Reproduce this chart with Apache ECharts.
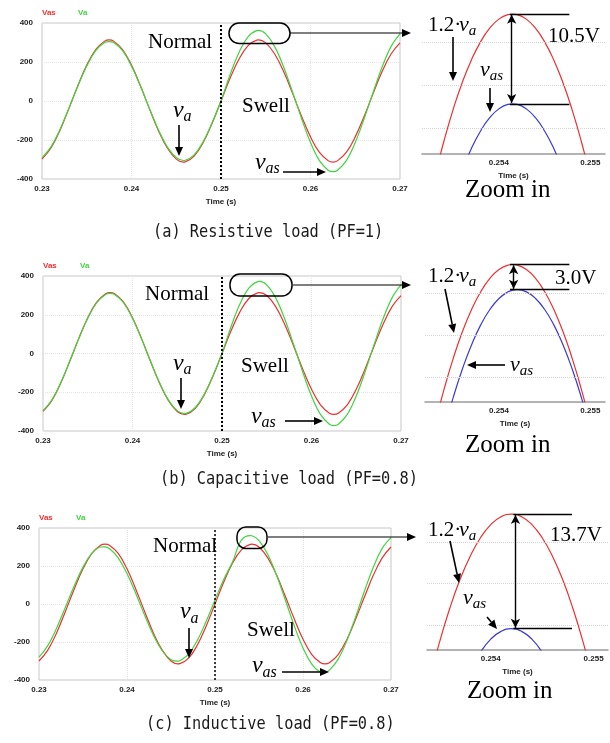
<!DOCTYPE html>
<html>
<head>
<meta charset="utf-8">
<title>Swell compensation waveforms</title>
<script src="https://cdn.jsdelivr.net/npm/echarts@6.0.0/dist/echarts.min.js"></script>
<style>
  html, body { margin: 0; padding: 0; background: #fff; }
  #chart { width: 610px; height: 743px; }
</style>
</head>
<body>
<div id="chart"></div>
<script>
// sample times of the PSIM traces (s), read every 1 ms plus the peaks
const timeMain = [0.230, 0.231, 0.232, 0.233, 0.234, 0.235, 0.236, 0.237, 0.2375, 0.238, 0.239,
  0.240, 0.241, 0.242, 0.243, 0.244, 0.245, 0.2458, 0.246, 0.247, 0.248, 0.249,
  0.250, 0.251, 0.252, 0.253, 0.254, 0.2542, 0.255, 0.256, 0.257, 0.258, 0.259,
  0.260, 0.261, 0.262, 0.2625, 0.263, 0.264, 0.265, 0.266, 0.267, 0.268, 0.269, 0.270];

// (a) resistive load
const vasA = [-298, -241, -151, -39, 78, 184, 264, 307, 313, 307, 264, 184, 78, -39, -151, -241, -298, -313, -312, -283, -214, -115,
  0, 115, 214, 283, 312, 313, 298, 241, 151, 39, -78, -184, -264, -307, -313, -307, -264, -184, -78, 39, 151, 241, 298];
const vaA = [-290, -235, -147, -38, 76, 179, 258, 300, 305, 300, 258, 179, 76, -38, -147, -235, -290, -305, -304, -276, -209, -112,
  0, 133, 248, 328, 361, 362, 344, 279, 174, 45, -90, -213, -306, -356, -362, -356, -306, -213, -90, 45, 174, 279, 344];
// (b) capacitive load
const vasB = [-299, -242, -151, -39, 78, 185, 265, 308, 314, 308, 265, 185, 78, -39, -151, -242, -299, -314, -313, -284, -215, -116,
  0, 116, 215, 284, 313, 314, 299, 242, 151, 39, -78, -185, -265, -308, -314, -308, -265, -185, -78, 39, 151, 242, 299];
const vaB = [-295, -239, -149, -39, 77, 182, 262, 305, 310, 305, 262, 182, 77, -39, -149, -239, -295, -310, -309, -280, -212, -114,
  0, 137, 255, 337, 371, 372, 354, 287, 179, 47, -93, -219, -314, -365, -372, -365, -314, -219, -93, 47, 179, 287, 354];
// (c) inductive load
const vasC = [-300, -243, -152, -39, 78, 185, 266, 309, 315, 309, 266, 185, 78, -39, -152, -243, -300, -315, -314, -285, -216, -116,
  0, 116, 216, 285, 314, 315, 300, 243, 152, 39, -78, -185, -266, -309, -315, -309, -266, -185, -78, 39, 152, 243, 300];
const vaC = [-280, -219, -127, -17, 95, 194, 266, 300, 301, 292, 243, 160, 55, -59, -164, -246, -293, -301, -299, -264, -191, -91,
  21, 130, 222, 336, 360, 359, 334, 261, 151, 20, -114, -231, -317, -357, -359, -348, -290, -191, -65, 70, 195, 293, 349];

// instant where the swell starts (dotted line), per case
const swellStart = [0.2507, 0.2506, 0.2521];

// zoomed peak, sampled every 0.1 ms
const timeZoom = [0.2532, 0.2533, 0.2534, 0.2535, 0.2536, 0.2537, 0.2538, 0.2539, 0.2540, 0.2541, 0.25415,
  0.2542, 0.2543, 0.2544, 0.2545, 0.2546, 0.2547, 0.2548, 0.2549, 0.2550, 0.2551];
const timeZoomC = [0.2533, 0.2534, 0.2535, 0.2536, 0.2537, 0.2538, 0.2539, 0.2540, 0.2541,
  0.2542, 0.2543, 0.2544, 0.2545, 0.2546, 0.2547, 0.2548, 0.2549, 0.2550, 0.2551];
const refZoomA = [349.67, 354.34, 358.52, 362.19, 365.35, 367.99, 370.10, 371.69, 372.75, 373.28, 373.35,
  373.28, 372.75, 371.69, 370.10, 367.99, 365.35, 362.19, 358.52, 354.34, 349.67];
const vasZoomA = [339.83, 344.38, 348.44, 352.01, 355.08, 357.64, 359.69, 361.24, 362.27, 362.79, 362.85,
  362.79, 362.27, 361.24, 359.69, 357.64, 355.08, 352.01, 348.44, 344.38, 339.83];
const refZoomB = [349.71, 354.39, 358.57, 362.24, 365.40, 368.04, 370.15, 371.74, 372.80, 373.33, 373.40,
  373.33, 372.80, 371.74, 370.15, 368.04, 365.40, 362.24, 358.57, 354.39, 349.71];
const vasZoomB = [344.39, 349.28, 353.68, 357.58, 360.96, 363.84, 366.20, 368.03, 369.35, 370.14, 370.33,
  370.40, 370.14, 369.35, 368.03, 366.20, 363.84, 360.96, 357.58, 353.68, 349.28];
const refZoomC = [347.73, 353.11, 357.85, 361.95, 365.43, 368.27, 370.49, 372.07, 373.01,
  373.33, 373.01, 372.07, 370.49, 368.27, 365.43, 361.95, 357.85, 353.11, 347.73];
const vasZoomC = [333.96, 339.34, 344.08, 348.18, 351.66, 354.50, 356.72, 358.30, 359.24,
  359.56, 359.24, 358.30, 356.72, 354.50, 351.66, 348.18, 344.08, 339.34, 333.96];

// peak readings in the zoom windows (V) and the printed difference
const peakRef = [373.35, 373.4, 373.33];
const peakVas = [362.85, 370.4, 359.56];
const diffText = ['10.5V', '3.0V', '13.7V'];
const zoomGridLevels = [360, 365, 370];
const captions = ['(a) Resistive load (PF=1)', '(b) Capacitive load (PF=0.8)', '(c) Inductive load (PF=0.8)'];

const RED = '#ee3030', GREEN = '#3fd63f', BLUE = '#3a3ad8';
const SERIF = '"Liberation Serif", "Times New Roman", serif';
const SANS = '"Liberation Sans", Arial, sans-serif';
const tickFont = { fontFamily: SANS, fontSize: 8, fontWeight: 'bold', color: '#222' };

const rows = [
  { vas: vasA, va: vaA, zt: timeZoom, zr: refZoomA, zb: vasZoomA },
  { vas: vasB, va: vaB, zt: timeZoom, zr: refZoomB, zb: vasZoomB },
  { vas: vasC, va: vaC, zt: timeZoomC, zr: refZoomC, zb: vasZoomC }
];

// layout
const mainGrids = [
  { left: 42, top: 23, width: 358, height: 156 },
  { left: 43, top: 276, width: 358, height: 155 },
  { left: 39, top: 528, width: 352, height: 152 }
];
const zoomGrids = [
  { left: 422, top: 11, width: 183, height: 143 },
  { left: 425, top: 262, width: 180, height: 140 },
  { left: 427, top: 511, width: 181, height: 139 }
];
const zoomRange = [[0.25316, 0.25516], [0.25319, 0.25516], [0.25338, 0.25514]];
// where the dimension lines sit in the zoom windows (time)
const dimSpan = [[0.25412, 0.25477, 0.25414], [0.25412, 0.25477, 0.25416], [0.25422, 0.25479, 0.25424]];

function pairs(xs, ys) {
  return xs.map(function (t, k) { return [t, ys[k]]; });
}

function lineSeries(name, idx, data, color) {
  return {
    name: name, type: 'line', xAxisIndex: idx, yAxisIndex: idx, data: data,
    symbol: 'none', showSymbol: false, smooth: 0.4, silent: true,
    lineStyle: { color: color, width: 1.2 }, itemStyle: { color: color }
  };
}

const grid = [], xAxis = [], yAxis = [], series = [];

mainGrids.forEach(function (g, i) {
  grid.push(Object.assign({ show: true, borderColor: '#c6c6c6', borderWidth: 1, outerBoundsMode: 'none' }, g));
  xAxis.push({
    gridIndex: i, type: 'value', min: 0.23, max: 0.27, interval: 0.01,
    name: 'Time (s)', nameLocation: 'middle', nameGap: 19, nameTextStyle: tickFont,
    axisLine: { show: false, onZero: false }, axisTick: { show: false },
    axisLabel: Object.assign({ margin: 6 }, tickFont),
    splitLine: { lineStyle: { color: '#e4e4e4', type: 'dotted' } }
  });
  yAxis.push({
    gridIndex: i, type: 'value', min: -400, max: 400, interval: 200,
    axisLine: { show: false }, axisTick: { show: false },
    axisLabel: Object.assign({ margin: 9 }, tickFont),
    splitLine: { lineStyle: { color: '#e4e4e4', type: 'dotted' } }
  });
});

zoomGrids.forEach(function (g, i) {
  grid.push(Object.assign({ outerBoundsMode: 'none' }, g));
  xAxis.push({
    gridIndex: 3 + i, type: 'value', min: zoomRange[i][0], max: zoomRange[i][1],
    name: 'Time (s)', nameLocation: 'middle', nameGap: 18, nameTextStyle: tickFont,
    axisLine: { show: true, onZero: false, lineStyle: { color: '#9a9a9a', width: 1.5 } },
    axisTick: { show: false },
    axisLabel: Object.assign({ margin: 5, customValues: [0.254, 0.255] }, tickFont),
    splitLine: { show: false }
  });
  yAxis.push({ gridIndex: 3 + i, type: 'value', min: 357, max: 373.7, show: false });
});

rows.forEach(function (r, i) {
  series.push(lineSeries('Vas', i, pairs(timeMain, r.vas), RED));
  const va = lineSeries('Va', i, pairs(timeMain, r.va), GREEN);
  va.markLine = {
    silent: true, symbol: ['none', 'none'], label: { show: false }, animation: false,
    lineStyle: { color: '#000', type: [2, 2], width: i === 2 ? 1.5 : 2 },
    data: [{ xAxis: swellStart[i] }]
  };
  series.push(va);
});

rows.forEach(function (r, i) {
  const ref = lineSeries('1.2·va', 3 + i, pairs(r.zt, r.zr), RED);
  ref.smooth = 0.5;
  ref.markLine = {
    silent: true, symbol: ['none', 'none'], label: { show: false }, animation: false,
    lineStyle: { color: '#d4d4d4', type: 'dotted', width: 1 },
    data: zoomGridLevels.map(function (v) { return { yAxis: v }; })
  };
  series.push(ref);
  const vas = lineSeries('vas', 3 + i, pairs(r.zt, r.zb), BLUE);
  vas.smooth = 0.5;
  const d = dimSpan[i];
  vas.markLine = {
    silent: true, symbol: ['none', 'none'], symbolSize: [7, 9], label: { show: false }, animation: false,
    lineStyle: { color: '#000', type: 'solid', width: 1.4 },
    data: [
      [{ coord: [d[0], peakRef[i]] }, { coord: [d[1], peakRef[i]] }],
      [{ coord: [d[0], peakVas[i]] }, { coord: [d[1], peakVas[i]] }],
      [{ coord: [d[2], peakRef[i] - 0.1], symbol: 'arrow' }, { coord: [d[2], peakVas[i] + 0.1], symbol: 'arrow' }]
    ]
  };
  series.push(vas);
});

// ---- annotations ----
function word(x, base, s, size, italic) {
  return {
    type: 'text', x: x, y: base - 0.305 * size, silent: true, z: 100,
    style: { text: s, font: (italic ? 'italic ' : '') + size + 'px ' + SERIF, fill: '#000', align: 'left', verticalAlign: 'middle' }
  };
}
// italic v with a subscript
function sym(x, base, sub, size) {
  return [word(x, base, 'v', size, true), word(x + 0.44 * size, base + 0.17 * size, sub, Math.round(size * 0.68), true)];
}
function arrow(x1, y1, x2, y2, lw) {
  const a = Math.atan2(y2 - y1, x2 - x1), h = 9, w = 4;
  const bx = x2 - h * Math.cos(a), by = y2 - h * Math.sin(a);
  const sx = w * Math.sin(a), sy = w * Math.cos(a);
  return [
    { type: 'line', silent: true, z: 100, shape: { x1: x1, y1: y1, x2: bx, y2: by }, style: { stroke: '#000', lineWidth: lw || 1.6 } },
    { type: 'polygon', silent: true, z: 100, shape: { points: [[x2, y2], [bx - sx, by + sy], [bx + sx, by - sy]] }, style: { fill: '#000' } }
  ];
}
function pill(x, y, w, h, r) {
  return { type: 'rect', silent: true, z: 100, shape: { x: x, y: y, width: w, height: h, r: r }, style: { fill: 'transparent', stroke: '#000', lineWidth: 1.5 } };
}
function legendText(x, y, s, color) {
  return { type: 'text', x: x, y: y, silent: true, z: 100,
    style: { text: s, font: 'bold 8px ' + SANS, fill: color, align: 'left', verticalAlign: 'middle' } };
}
function caption(x, y, s) {
  return { type: 'text', x: x, y: y, scaleX: 0.9, silent: true, z: 100,
    style: { text: s, font: '17px "DejaVu Sans Mono", monospace', fill: '#1a1a1a', align: 'left', verticalAlign: 'middle' } };
}

const g = [].concat(
  // (a)
  legendText(42, 13, 'Vas', RED), legendText(78, 13, 'Va', GREEN),
  word(148, 49, 'Normal', 21), word(242, 112.7, 'Swell', 21),
  sym(173, 118, 'a', 24), arrow(179, 125, 179, 156),
  sym(255, 170, 'as', 24), arrow(283, 172, 326, 172),
  pill(229, 23, 61, 20.5, 10), arrow(290, 33, 411, 33, 1.2),
  word(428, 31.7, '1.2·', 21), sym(459, 31.7, 'a', 22), arrow(453, 37, 453, 81),
  sym(480, 77, 'as', 22), arrow(490, 88, 490, 112),
  word(548, 42.7, diffText[0], 21), word(465, 198, 'Zoom in', 25),
  caption(153, 233, captions[0]),
  // (b)
  legendText(43, 265.7, 'Vas', RED), legendText(80, 265.7, 'Va', GREEN),
  word(145, 300.7, 'Normal', 21), word(241, 373.3, 'Swell', 21),
  sym(173, 370.7, 'a', 24), arrow(181, 378, 181, 409),
  sym(251, 424, 'as', 24), arrow(285, 421, 323, 421),
  pill(230, 274, 62, 22, 10), arrow(293, 285, 411, 285, 1.2),
  word(428, 283.3, '1.2·', 21), sym(459, 283.3, 'a', 22), arrow(445, 289, 454, 333),
  sym(510, 371.7, 'as', 22), arrow(505, 365, 467, 365),
  word(555, 285, diffText[1], 21), word(465, 452.7, 'Zoom in', 25),
  caption(160, 480, captions[1]),
  // (c)
  legendText(39, 517.7, 'Vas', RED), legendText(76, 517.7, 'Va', GREEN),
  word(153, 553.3, 'Normal', 21), word(247, 636.7, 'Swell', 21),
  sym(180, 619.3, 'a', 24), arrow(189, 628, 189, 658),
  sym(252, 673.3, 'as', 24), arrow(282, 672, 329, 672),
  pill(237, 527, 30, 21.5, 9), arrow(268, 537, 416, 537, 1.2),
  word(428, 536.7, '1.2·', 21), sym(459, 536.7, 'a', 22), arrow(450, 541, 459, 583),
  sym(463, 605, 'as', 22), arrow(487, 617, 497, 629),
  word(550, 541.7, diffText[2], 21), word(467, 699, 'Zoom in', 25),
  caption(146, 725, captions[2])
);

const chart = echarts.init(document.getElementById('chart'));
chart.setOption({
  animation: false,
  backgroundColor: '#fff',
  grid: grid,
  xAxis: xAxis,
  yAxis: yAxis,
  series: series,
  graphic: { elements: g }
});
</script>
</body>
</html>
